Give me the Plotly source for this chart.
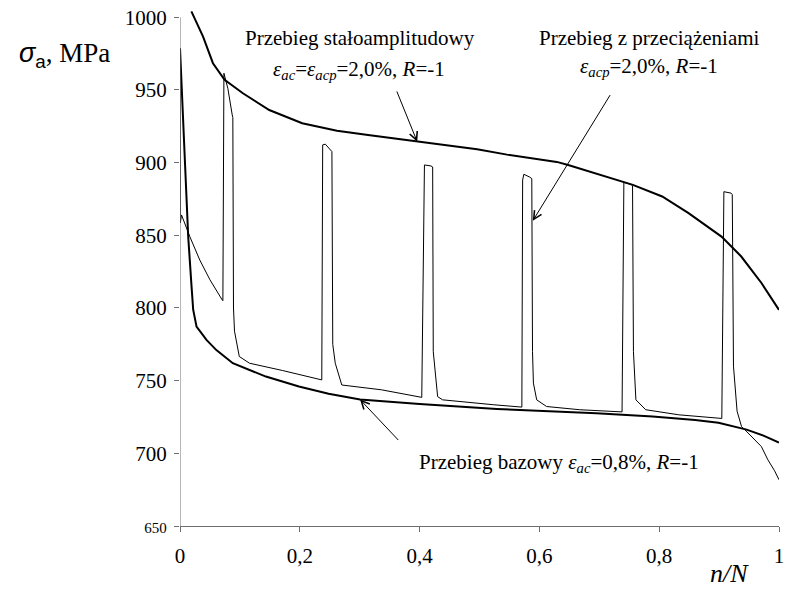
import plotly.graph_objects as go

# Constant-amplitude test, eps_ac = eps_acp = 2.0 %
const_x = [0.019, 0.0385, 0.055, 0.0744, 0.105, 0.149, 0.204, 0.262, 0.314, 0.396,
           0.447, 0.496, 0.546, 0.629, 0.648, 0.711, 0.756, 0.805, 0.849, 0.904,
           0.937, 0.971, 1.0]
const_s = [1004.0, 986.7, 968.4, 956.9, 947.7, 936.2, 927.1, 922.0, 919.0, 914.4,
           911.6, 909.2, 905.5, 900.5, 898.4, 890.4, 884.7, 876.7, 865.2, 849.1,
           835.4, 817.0, 798.7]

# Base test, eps_ac = 0.8 %
base_x = [0.0, 0.004, 0.0083, 0.0137, 0.0193, 0.022, 0.0276, 0.0442, 0.0607, 0.0882,
          0.1434, 0.1985, 0.2481, 0.3006, 0.40, 0.529, 0.695, 0.789, 0.86, 0.899,
          0.946, 0.975, 1.0]
base_s = [978.6, 940.8, 895.0, 849.0, 814.7, 798.8, 787.2, 778.0, 771.0, 762.0,
          752.8, 746.0, 741.0, 737.0, 734.0, 730.5, 727.5, 725.3, 723.0, 721.0,
          716.3, 712.0, 707.4]

# Test with periodic overloads, eps_acp = 2.0 %
over_x = [0.0, 0.0005, 0.0025, 0.0165, 0.033, 0.050, 0.0705, 0.0716, 0.0733, 0.0799,
          0.0872, 0.0882, 0.0893, 0.0910, 0.099, 0.116, 0.1709, 0.2367,
          0.2382, 0.2426, 0.2536, 0.2550, 0.2592, 0.2701, 0.3363, 0.4025,
          0.4036, 0.4081, 0.4190, 0.4218, 0.4228, 0.4301, 0.4384, 0.5239, 0.5707,
          0.5720, 0.5740, 0.5840, 0.5873, 0.5885, 0.5900, 0.5955, 0.6121, 0.6672, 0.7362,
          0.7380, 0.7410, 0.7530, 0.7555, 0.7570, 0.7611, 0.7775, 0.8326, 0.9040,
          0.9045, 0.9080, 0.9200, 0.9220, 0.9240, 0.9300, 0.9375, 0.9430, 0.9705,
          0.9815, 0.9926, 1.0]
over_s = [976.0, 858.5, 864.0, 849.0, 833.0, 819.4, 805.5, 805.0, 961.5, 951.0,
          932.8, 931.0, 800.0, 784.0, 766.6, 762.0, 757.0, 750.5,
          912.2, 912.7, 907.6, 775.0, 762.0, 747.0, 743.7, 738.5,
          738.5, 898.4, 897.7, 897.0, 770.0, 739.0, 736.8, 733.4, 731.8,
          888.0, 892.0, 890.0, 889.0, 770.0, 748.3, 736.8, 732.2, 730.0, 728.7,
          728.5, 886.5, 885.0, 884.0, 770.0, 736.8, 730.0, 726.5, 724.0,
          724.0, 880.0, 879.0, 878.0, 760.0, 729.0, 718.4, 716.2, 704.7,
          695.5, 688.0, 681.8]

x_ticks = [0, 0.2, 0.4, 0.6, 0.8, 1.0]
x_labels = ["0", "0,2", "0,4", "0,6", "0,8", "1"]
y_ticks = [650, 700, 750, 800, 850, 900, 950, 1000]
y_labels = ["<span style='font-size:15px'>650</span>", "700", "750", "800",
            "850", "900", "950", "1000"]

SERIF = "'Liberation Serif', 'Times New Roman', serif"
AXIS_GRAY = "#6e6e6e"

fig = go.Figure()
fig.add_trace(go.Scatter(x=const_x, y=const_s, mode="lines",
                         line=dict(color="black", width=2), hoverinfo="skip"))
fig.add_trace(go.Scatter(x=base_x, y=base_s, mode="lines",
                         line=dict(color="black", width=2), hoverinfo="skip"))
fig.add_trace(go.Scatter(x=over_x, y=over_s, mode="lines",
                         line=dict(color="black", width=1), hoverinfo="skip"))

# vertical axis line, only up to the last tick
fig.add_shape(type="line", xref="x", yref="y", x0=0, x1=0, y0=650, y1=1000,
              line=dict(color=AXIS_GRAY, width=1))

txt = dict(family=SERIF, size=21, color="black")
annotations = [
    # curve labels
    dict(x=0.30, y=986.0, text="Przebieg stałoamplitudowy"),
    dict(x=0.298, y=964.0,
         text="<i>ε</i><sub><i>ac</i></sub>=<i>ε</i><sub><i>acp</i></sub>=2,0%, <i>R</i>=-1"),
    dict(x=0.783, y=985.5, text="Przebieg z przeciążeniami"),
    dict(x=0.783, y=966.0, text="<i>ε</i><sub><i>acp</i></sub>=2,0%, <i>R</i>=-1"),
    dict(x=0.633, y=693.5,
         text="Przebieg bazowy <i>ε</i><sub><i>ac</i></sub>=0,8%, <i>R</i>=-1"),
]
anns = []
for a in annotations:
    anns.append(dict(xref="x", yref="y", showarrow=False, font=txt,
                     xanchor="center", yanchor="middle", **a))

# pointer arrows: (tip x, tip y, tail x, tail y)
arrows = [(0.396, 914.4, 0.361, 950.0),
          (0.589, 860.0, 0.7196, 947.5),
          (0.3006, 737.0, 0.3668, 708.1)]
for tx, ty, sx, sy in arrows:
    anns.append(dict(xref="x", yref="y", x=tx, y=ty, axref="x", ayref="y",
                     ax=sx, ay=sy, text="", showarrow=True, arrowhead=5,
                     arrowsize=1.6, arrowwidth=1, arrowcolor="black"))

# axis titles
anns.append(dict(xref="paper", yref="paper", x=-0.193, y=0.913,
                 xanchor="center", yanchor="middle", showarrow=False,
                 font=dict(family=SERIF, size=27, color="black"),
                 text="<span style=\"font-family:'Liberation Sans', Arial, sans-serif\">"
                      "<i>σ</i><sub>a</sub></span>, MPa"))
anns.append(dict(xref="paper", yref="paper", x=0.918, y=-0.092,
                 xanchor="center", yanchor="middle", showarrow=False,
                 font=dict(family=SERIF, size=26, color="black"),
                 text="<i>n/N</i>"))

fig.update_layout(
    width=790, height=590, autosize=False,
    margin=dict(l=180, r=6, t=10, b=63.5, pad=0),
    paper_bgcolor="white", plot_bgcolor="white",
    showlegend=False,
    annotations=anns,
    xaxis=dict(range=[0, 1], tickvals=x_ticks, ticktext=x_labels,
               ticks="outside", ticklen=5, tickcolor=AXIS_GRAY, tickwidth=1,
               showline=True, linecolor=AXIS_GRAY, linewidth=1,
               showgrid=False, zeroline=False, ticklabelstandoff=6,
               tickfont=dict(family=SERIF, size=21, color="black")),
    yaxis=dict(range=[650, 1005], tickvals=y_ticks, ticktext=y_labels,
               ticks="outside", ticklen=5, tickcolor=AXIS_GRAY, tickwidth=1,
               showline=False, showgrid=False, zeroline=False,
               ticklabelstandoff=3,
               tickfont=dict(family=SERIF, size=21, color="black")),
)

fig.write_html("out.html")
